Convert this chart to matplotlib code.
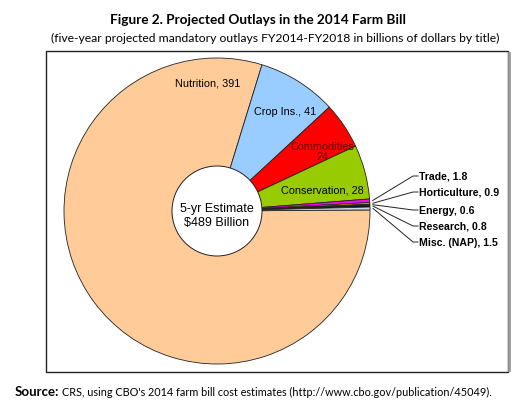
import matplotlib.pyplot as plt
import matplotlib.patches as mpatches
import numpy as np
from matplotlib import rcParams

rcParams['font.family'] = 'Liberation Sans'

# Data: five-year projected outlays FY2014-FY2018, billions of dollars
titles = ['Nutrition', 'Crop Ins.', 'Commodities', 'Conservation',
          'Trade', 'Horticulture', 'Energy', 'Research', 'Misc. (NAP)']
outlays = [391, 41, 24, 28, 1.8, 0.9, 0.6, 0.8, 1.5]
colors = ['#FFCC99', '#99CCFF', '#FF0000', '#99CC00',
          '#FF00FF', '#FF9900', '#800000', '#000033', '#C8D8E8']
total_label = '5-yr Estimate\n$489 Billion'

W, H = 528, 402
fig = plt.figure(figsize=(W / 100, H / 100), dpi=100)
ax = fig.add_axes([0, 0, 1, 1])

# pie geometry in pixel space (y measured from bottom)
cx, cy, r = 217, H - 212, 153
wedges, _ = ax.pie(outlays, colors=colors, startangle=0.4, counterclock=False,
                   center=(cx, cy), radius=r,
                   wedgeprops=dict(edgecolor='#222222', linewidth=0.6))
ax.set_xlim(0, W)
ax.set_ylim(0, H)
ax.set_aspect('equal')
ax.set_axis_off()

# white centre circle
ax.add_patch(mpatches.Circle((cx, cy), 45, facecolor='white', edgecolor='#222222',
                             linewidth=0.7, zorder=5))
ax.text(cx, cy - 4, total_label, ha='center', va='center', fontsize=9,
        zorder=6, linespacing=1.2)

# labels inside the big slices
ax.text(208, H - 84, f'{titles[0]}, {outlays[0]}', ha='center', va='center', fontsize=7.8)
ax.text(285, H - 112, f'{titles[1]}, {outlays[1]}', ha='center', va='center', fontsize=7.8)
ax.text(322, H - 152, f'{titles[2]}\n{outlays[2]}', ha='center', va='center', fontsize=7.8,
        color='#660000', linespacing=1.0)
ax.text(322, H - 191, f'{titles[3]}, {outlays[3]}', ha='center', va='center', fontsize=7.8)

# leader lines for the small slices
label_y = [177, 193, 211, 227, 243]
for wedge, name, val, ly in zip(wedges[4:], titles[4:], outlays[4:], label_y):
    mid = np.deg2rad((wedge.theta1 + wedge.theta2) / 2)
    x0 = cx + r * 1.02 * np.cos(mid)
    y0 = cy + r * 1.02 * np.sin(mid)
    ax.plot([x0, 413, 418], [y0, H - ly, H - ly], color='#222222', lw=0.7)
    ax.text(419, H - ly, f'{name}, {val}', ha='left', va='center', fontsize=7.6,
            fontweight='bold')

# frame with a soft shadow on the right
ax.plot([509, 509], [H - 371, H - 54], color='#999999', lw=2.0)
ax.add_patch(mpatches.Rectangle((46, H - 373), 462, 321, fill=False,
                                edgecolor='#222222', linewidth=1.0))

# titles and source
fig.text(258 / W, 1 - 20 / H, 'Figure 2. Projected Outlays in the 2014 Farm Bill',
         ha='center', va='center', fontsize=9.8, fontweight='bold', family='Lato')
fig.text(275 / W, 1 - 38 / H,
         '(five-year projected mandatory outlays FY2014-FY2018 in billions of dollars by title)',
         ha='center', va='center', fontsize=8.7, family='Lato')
fig.text(15 / W, 1 - 392 / H, 'Source:', ha='left', va='center', fontsize=9.5,
         fontweight='bold', family='Lato')
fig.text(62 / W, 1 - 392 / H,
         "CRS, using CBO's 2014 farm bill cost estimates (http://www.cbo.gov/publication/45049).",
         ha='left', va='center', fontsize=7.8, family='Lato')

plt.savefig('out.png', dpi=100, facecolor='white')
plt.close()
